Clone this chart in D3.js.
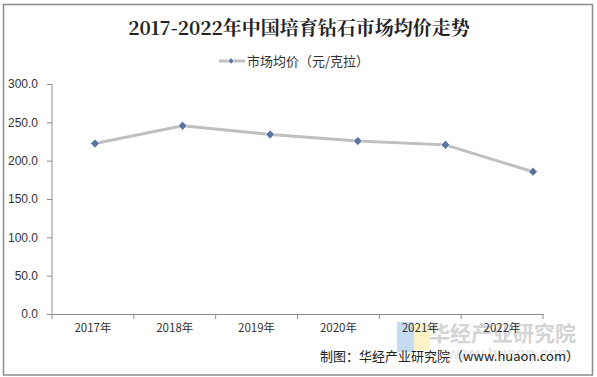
<!DOCTYPE html>
<html>
<head>
<meta charset="utf-8">
<script src="https://cdn.jsdelivr.net/npm/d3@7"></script>
<style>
  body { margin: 0; background: #fff; }
  svg { display: block; }
</style>
</head>
<body>
<svg id="chart" width="597" height="377"></svg>
<script>
// DATA
const years = ["2017年", "2018年", "2019年", "2020年", "2021年", "2022年"];
const prices = [222.4, 245.5, 234.2, 225.6, 220.6, 185.5];
const yTicks = [0, 50, 100, 150, 200, 250, 300];
const titleText = "2017-2022年中国培育钻石市场均价走势";
const seriesName = "市场均价（元/克拉）";
const sourceText = "制图：华经产业研究院（www.huaon.com）";

// CANVAS SETUP
const svg = d3.select("#chart");
const font = "'Microsoft YaHei', 'Noto Sans CJK SC', sans-serif";

svg.append("rect")
  .attr("x", 3.5).attr("y", 4.5)
  .attr("width", 589).attr("height", 370.5)
  .attr("fill", "#fff")
  .attr("stroke", "#8c8c8c")
  .attr("stroke-width", 1.5);

const plot = { left: 52, right: 543, top: 84, bottom: 314 };

// SCALES
const xBand = d3.scaleBand().domain(years).range([plot.left, plot.right]);
// markers sit a little right of the band centres in the original
const xPoint = d3.scalePoint().domain(years).range([95, 533]);
const yScale = d3.scaleLinear().domain([0, 300]).range([plot.bottom, plot.top]);

// WATERMARK (behind everything else)
const wm = svg.append("g");
wm.append("rect").attr("x", 397).attr("y", 322).attr("width", 17).attr("height", 30).attr("fill", "#c6dcf3");
wm.append("rect").attr("x", 414).attr("y", 324).attr("width", 16).attr("height", 26).attr("fill", "#fcf2c4");
wm.append("text").attr("x", 576).attr("y", 341).attr("text-anchor", "end")
  .style("font-family", font).style("font-size", "21px").style("font-weight", "bold")
  .attr("fill", "#d4d4d4").text("华经产业研究院");
wm.append("text").attr("x", 572).attr("y", 359).attr("text-anchor", "end")
  .style("font-family", "Arial, sans-serif").style("font-size", "17px")
  .attr("fill", "#e2e2e2").text("www.huaon.com");

// AXES
const gy = svg.append("g").attr("transform", `translate(${plot.left},0)`);
gy.call(d3.axisLeft(yScale).tickValues(yTicks).tickSize(5).tickPadding(9)
    .tickFormat(d3.format(".1f")))
  .call(g => {
    g.select(".domain").attr("stroke", "#8c8c8c").attr("d", `M0,${plot.top}V${plot.bottom}`);
    g.selectAll("line").attr("stroke", "#8c8c8c");
    g.selectAll("text").attr("fill", "#333").style("font-family", "Arial, 'Liberation Sans', sans-serif").style("font-size", "12px");
  });

const gx = svg.append("g").attr("transform", `translate(0,${plot.bottom})`);
gx.call(d3.axisBottom(xBand).tickSize(0).tickPadding(10))
  .call(g => {
    g.select(".domain").attr("stroke", "#8c8c8c");
    g.selectAll("text").attr("fill", "#333").style("font-family", font).style("font-size", "11.5px");
  });
gx.selectAll(".xtick")
  .data(years.map(d => xBand(d)).concat([plot.right]))
  .join("line")
  .attr("class", "xtick")
  .attr("x1", d => d).attr("x2", d => d)
  .attr("y1", 0).attr("y2", 5)
  .attr("stroke", "#8c8c8c");

// LINE + MARKERS
const line = d3.line().x((d, i) => xPoint(years[i])).y(d => yScale(d));
svg.append("path")
  .datum(prices)
  .attr("d", line)
  .attr("fill", "none")
  .attr("stroke", "#bfbfbf")
  .attr("stroke-width", 3);

const diamond = d3.symbol().type(d3.symbolDiamond2).size(52);
svg.selectAll(".pt")
  .data(prices)
  .join("path")
  .attr("class", "pt")
  .attr("transform", (d, i) => `translate(${xPoint(years[i])},${yScale(d)})`)
  .attr("d", diamond)
  .attr("fill", "#5a74a0")
  .attr("stroke", "#fff")
  .attr("stroke-width", 0.8);

// TITLE
svg.append("text")
  .attr("x", 299).attr("y", 35)
  .attr("text-anchor", "middle")
  .style("font-family", "'Noto Serif CJK SC', 'Noto Sans CJK SC', serif")
  .style("font-size", "19px").style("font-weight", "bold")
  .attr("fill", "#222")
  .text(titleText);

// LEGEND
const lg = svg.append("g");
lg.append("line").attr("x1", 219).attr("x2", 245).attr("y1", 61).attr("y2", 61)
  .attr("stroke", "#bfbfbf").attr("stroke-width", 3);
lg.append("path").attr("transform", "translate(231,61)")
  .attr("d", d3.symbol().type(d3.symbolDiamond2).size(22))
  .attr("fill", "#5a74a0").attr("stroke", "#fff").attr("stroke-width", 0.6);
lg.append("text").attr("x", 247).attr("y", 66)
  .style("font-family", font).style("font-size", "13px")
  .attr("fill", "#333").text(seriesName);

// SOURCE
svg.append("text").attr("x", 579).attr("y", 361).attr("text-anchor", "end")
  .style("font-family", font).style("font-size", "13px")
  .attr("fill", "#222").text(sourceText);
</script>
</body>
</html>
